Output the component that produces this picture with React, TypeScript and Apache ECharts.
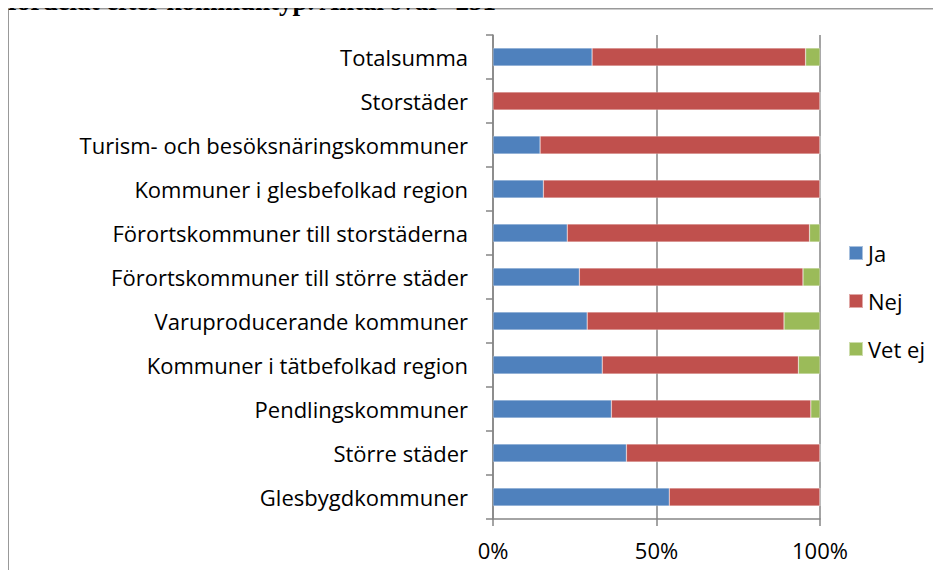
import React, { useEffect, useRef } from "react";
import * as echarts from "echarts";

const categories = [
  "Totalsumma",
  "Storstäder",
  "Turism- och besöksnäringskommuner",
  "Kommuner i glesbefolkad region",
  "Förortskommuner till storstäderna",
  "Förortskommuner till större städer",
  "Varuproducerande kommuner",
  "Kommuner i tätbefolkad region",
  "Pendlingskommuner",
  "Större städer",
  "Glesbygdkommuner",
];
const ja = [30.3, 0, 14.4, 15.4, 22.7, 26.4, 28.8, 33.4, 36.2, 40.8, 53.9];
const nej = [65.3, 100, 85.6, 84.6, 74.1, 68.4, 60.2, 60.0, 61.0, 59.2, 46.1];
const vetEj = [4.4, 0, 0, 0, 3.2, 5.2, 11.0, 6.6, 2.8, 0, 0];
const xTicks = [0, 50, 100];
const titleText = "fördelat efter kommuntyp. Antal svar=251";

const FONT = "'Open Sans'";
const GRAY = "#868686";

export default function App() {
  const ref = useRef<HTMLDivElement>(null);
  useEffect(() => {
    const chart = echarts.init(ref.current!, null, { renderer: "svg" });
    const mk = (name: string, data: number[], color: string) => ({
      name,
      type: "bar",
      stack: "s",
      data,
      barCategoryGap: "59%",
      itemStyle: { color, borderColor: "rgba(255,255,255,0.5)", borderWidth: 0.5 },
      emphasis: { disabled: true },
    });
    chart.setOption({
      animation: false,
      textStyle: { fontFamily: FONT },
      graphic: [
        {
          type: "line",
          shape: { x1: 8, y1: 8, x2: 8, y2: 578 },
          style: { stroke: "#999999", lineWidth: 2 },
        },
        {
          type: "line",
          shape: { x1: 7, y1: 8.5, x2: 941, y2: 8.5 },
          style: { stroke: "#999999", lineWidth: 2 },
        },
        {
          type: "text",
          x: 8,
          y: 14,
          style: {
            text: titleText,
            font: "bold 27px 'Liberation Serif'",
            fill: "#000",
            verticalAlign: "bottom",
          },
        },
      ],
      grid: { left: 493, right: 121, top: 35, bottom: 59, containLabel: false },
      legend: {
        orient: "vertical",
        left: 843,
        top: 236,
        itemWidth: 14,
        itemHeight: 14,
        itemGap: 24,
        icon: "rect",
        textStyle: { fontFamily: FONT, fontSize: 22, color: "#000", lineHeight: 24 },
        data: ["Ja", "Nej", "Vet ej"],
      },
      xAxis: {
        type: "value",
        min: 0,
        max: 100,
        interval: 50,
        axisLine: { show: true, lineStyle: { color: GRAY, width: 1.5 } },
        axisTick: { show: true, length: 7, lineStyle: { color: GRAY, width: 1.5 } },
        splitLine: { show: true, lineStyle: { color: GRAY, width: 1.5 } },
        axisLabel: {
          margin: 20,
          fontSize: 22,
          color: "#000",
          fontFamily: FONT,
          formatter: (v: number) => (xTicks.includes(v) ? v + "%" : ""),
        },
      },
      yAxis: {
        type: "category",
        inverse: true,
        data: categories,
        axisLine: { show: true, lineStyle: { color: GRAY, width: 1.5 } },
        axisTick: { show: true, length: 7, lineStyle: { color: GRAY, width: 1.5 } },
        axisLabel: { margin: 25, fontSize: 22, color: "#000", fontFamily: FONT },
      },
      series: [
        mk("Ja", ja, "#4F81BD"),
        mk("Nej", nej, "#C0504D"),
        mk("Vet ej", vetEj, "#9BBB59"),
      ],
    });
    return () => chart.dispose();
  }, []);
  return <div ref={ref} style={{ width: 941, height: 578, margin: -8 }} />;
}
